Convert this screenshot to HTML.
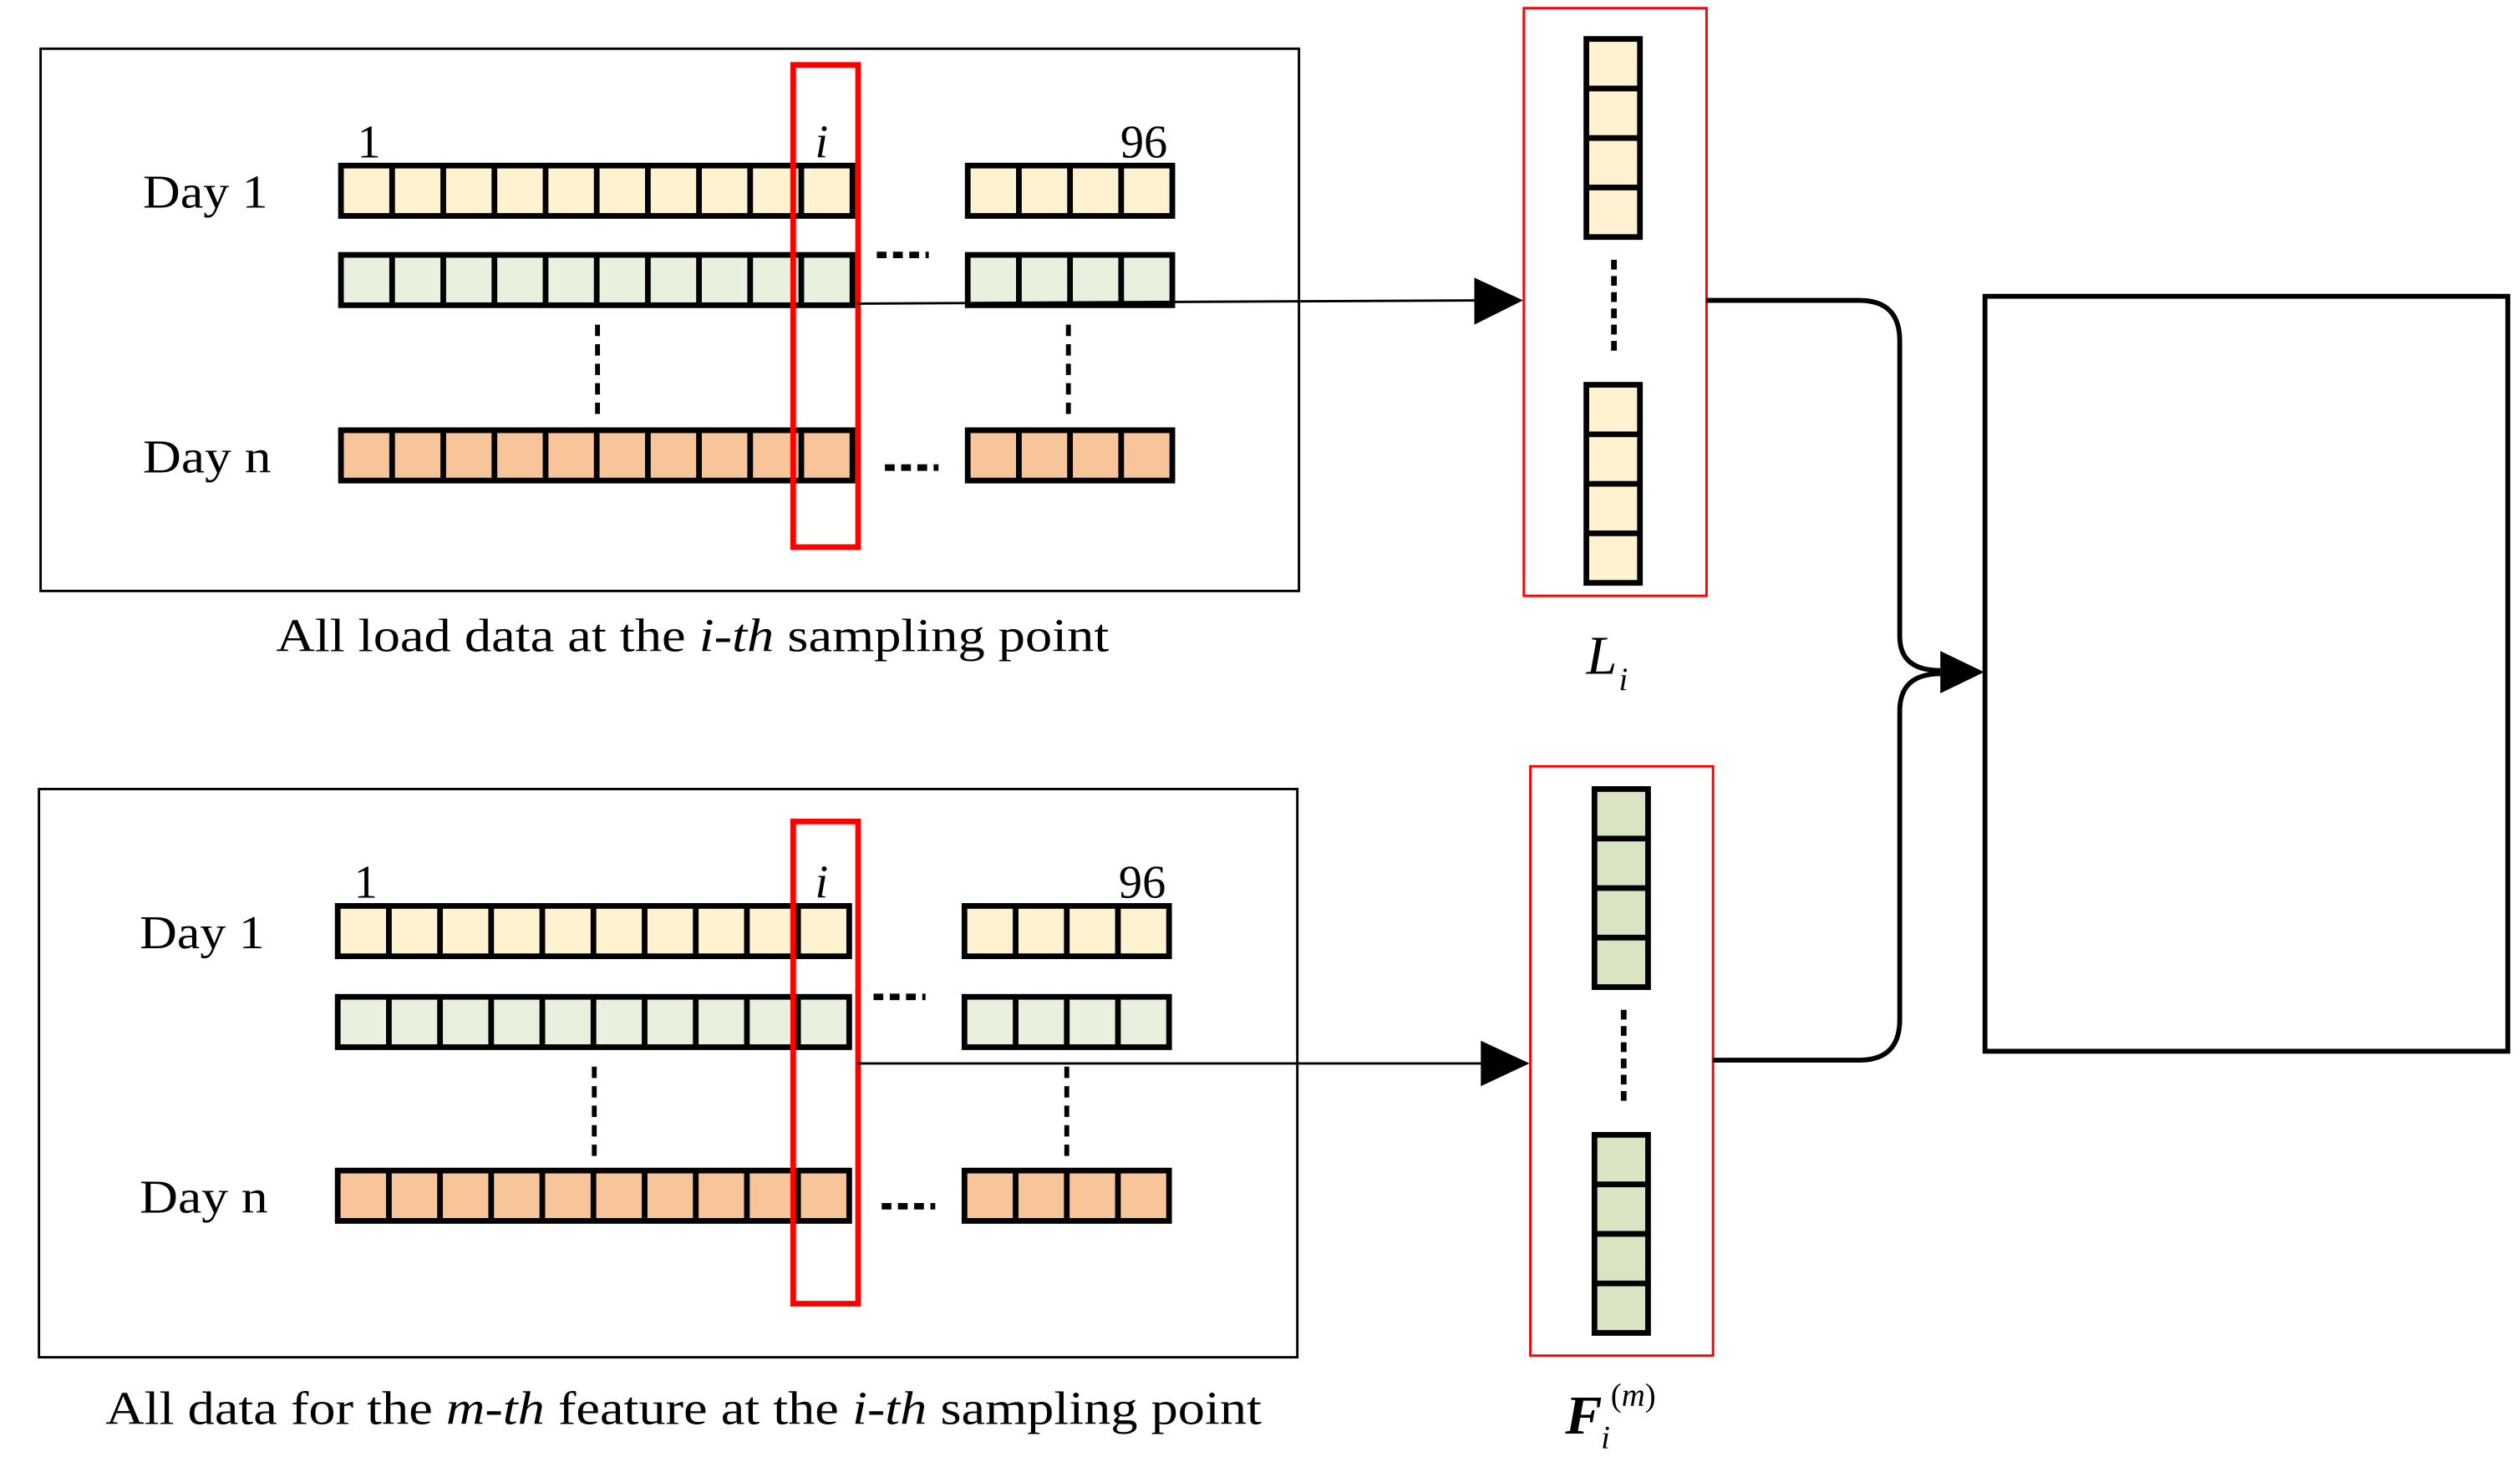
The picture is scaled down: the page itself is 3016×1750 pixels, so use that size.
<!DOCTYPE html>
<html><head><meta charset="utf-8"><style>
html,body{margin:0;padding:0;background:#fff;}
svg{display:block;}
text{font-family:"Liberation Serif",serif;fill:#000;}
</style></head><body>
<svg width="3016" height="1750" viewBox="0 0 1552 900.5" preserveAspectRatio="none" xmlns="http://www.w3.org/2000/svg">
<defs>
<g id="LR" stroke="#000" stroke-width="3.5">
<rect x="210" y="0" width="315" height="31"/>
<path d="M241.5 0V31M273 0V31M304.5 0V31M336 0V31M367.5 0V31M399 0V31M430.5 0V31M462 0V31M493.5 0V31" fill="none"/>
</g>
<g id="RR" stroke="#000" stroke-width="3.5">
<rect x="596" y="0" width="126" height="31"/>
<path d="M627.5 0V31M659 0V31M690.5 0V31" fill="none"/>
</g>
<g id="V" stroke="#000" stroke-width="3.5">
<rect x="0" y="0" width="33" height="122"/>
<path d="M0 30.5H33M0 61H33M0 91.5H33" fill="none"/>
</g>
</defs>

<!-- Top panel -->
<rect x="25" y="30" width="775" height="334" fill="none" stroke="#000" stroke-width="1.5"/>
<text x="220" y="97" font-size="29">1</text>
<text x="502" y="97" font-size="29" font-style="italic">i</text>
<text x="690" y="97" font-size="29">96</text>
<text x="88" y="128" font-size="29" textLength="77" lengthAdjust="spacingAndGlyphs">Day 1</text>
<text x="88" y="291" font-size="29" textLength="79" lengthAdjust="spacingAndGlyphs">Day n</text>
<use href="#LR" y="102" fill="#fff2d0"/><use href="#RR" y="102" fill="#fff2d0"/>
<use href="#LR" y="157" fill="#e8f0de"/><use href="#RR" y="157" fill="#e8f0de"/>
<use href="#LR" y="265" fill="#f8c59b"/><use href="#RR" y="265" fill="#f8c59b"/>
<path d="M540 157H572M545 288H578" stroke="#000" stroke-width="4" stroke-dasharray="6 4"/>
<path d="M368 200V258M658 200V258" stroke="#000" stroke-width="3" stroke-dasharray="7 5"/>
<rect x="488.5" y="40" width="40" height="297" fill="none" stroke="#f00" stroke-width="3.5"/>
<line x1="528" y1="187" x2="912" y2="185" stroke="#000" stroke-width="1.5"/>
<path d="M908 171L938 185L908 200Z" fill="#000"/>
<text x="170" y="401" font-size="29" textLength="513" lengthAdjust="spacingAndGlyphs">All load data at the <tspan font-style="italic">i-th</tspan> sampling point</text>

<!-- Bottom panel -->
<rect x="24" y="486" width="775" height="350" fill="none" stroke="#000" stroke-width="1.5"/>
<text x="218" y="553" font-size="29">1</text>
<text x="502" y="553" font-size="29" font-style="italic">i</text>
<text x="689" y="553" font-size="29">96</text>
<text x="86" y="584" font-size="29" textLength="77" lengthAdjust="spacingAndGlyphs">Day 1</text>
<text x="86" y="747" font-size="29" textLength="79" lengthAdjust="spacingAndGlyphs">Day n</text>
<g transform="translate(-2,0)">
<use href="#LR" y="558" fill="#fff2d0"/><use href="#RR" y="558" fill="#fff2d0"/>
<use href="#LR" y="614" fill="#e8f0de"/><use href="#RR" y="614" fill="#e8f0de"/>
<use href="#LR" y="721" fill="#f8c59b"/><use href="#RR" y="721" fill="#f8c59b"/>
</g>
<path d="M538 614H570M543 743H576" stroke="#000" stroke-width="4" stroke-dasharray="6 4"/>
<path d="M366 657V715M657 657V715" stroke="#000" stroke-width="3" stroke-dasharray="7 5"/>
<rect x="488.5" y="506" width="40" height="297" fill="none" stroke="#f00" stroke-width="3.5"/>
<line x1="528" y1="655" x2="915" y2="655" stroke="#000" stroke-width="1.5"/>
<path d="M912 641L942 655L912 669Z" fill="#000"/>
<text x="65" y="877" font-size="29" textLength="712" lengthAdjust="spacingAndGlyphs">All data for the <tspan font-style="italic">m-th</tspan> feature at the <tspan font-style="italic">i-th</tspan> sampling point</text>

<!-- L_i -->
<rect x="938.5" y="5" width="112.5" height="362" fill="none" stroke="#f00" stroke-width="1.5"/>
<use href="#V" x="977" y="24" fill="#fff2d0"/>
<use href="#V" x="977" y="237" fill="#fff2d0"/>
<path d="M994 160V218" stroke="#000" stroke-width="3.5" stroke-dasharray="6 4"/>
<text x="977" y="415" font-size="34" font-style="italic">L</text>
<text x="997" y="425" font-size="20" font-style="italic">i</text>

<!-- F_i -->
<rect x="942.5" y="472" width="112.5" height="363" fill="none" stroke="#f00" stroke-width="1.5"/>
<use href="#V" x="982" y="486" fill="#d8e4c2"/>
<use href="#V" x="982" y="699" fill="#d8e4c2"/>
<path d="M1000 622V680" stroke="#000" stroke-width="3.5" stroke-dasharray="6 4"/>
<text x="964" y="883" font-size="34" font-style="italic" font-weight="bold">F</text>
<text x="986" y="892" font-size="20" font-style="italic">i</text>
<text x="992" y="866" font-size="20">(<tspan font-style="italic">m</tspan>)</text>

<!-- connectors -->
<path d="M1051 185H1145Q1170 185 1170 210V392Q1170 413 1195 413" fill="none" stroke="#000" stroke-width="3"/>
<path d="M1055 653H1145Q1170 653 1170 628V438Q1170 415 1195 415" fill="none" stroke="#000" stroke-width="3"/>
<path d="M1195 401L1222 414L1195 427Z" fill="#000"/>

<rect x="1222.5" y="182.5" width="322" height="465" fill="none" stroke="#000" stroke-width="3"/>
</svg>
</body></html>
